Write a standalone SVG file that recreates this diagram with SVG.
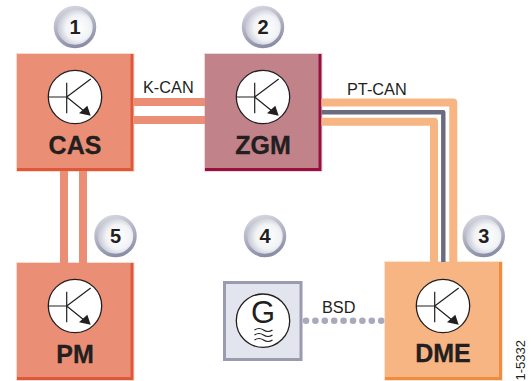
<svg xmlns="http://www.w3.org/2000/svg" width="531" height="381" viewBox="0 0 531 381">
<style>
text{font-family:"Liberation Sans",Arial,sans-serif;fill:#231f20}
.name{font-size:25px;font-weight:700;text-anchor:middle;stroke:#231f20;stroke-width:.3}
.bus{font-size:16.3px}
.num{font-size:20px;font-weight:700;text-anchor:middle}
.disc{fill:#fff;stroke:#231f20;stroke-width:1.3}
.thin{fill:none;stroke:#231f20;stroke-width:1.2}
.badge{fill:url(#bg);stroke:url(#br);stroke-width:3.500}
</style>
<defs>
<radialGradient id="bg" cx="0.58" cy="0.52" r="0.58"><stop offset="0" stop-color="#ffffff"/><stop offset="0.55" stop-color="#f2f3f6"/><stop offset="1" stop-color="#b9bbca"/></radialGradient>
<linearGradient id="br" x1="0.3" y1="0" x2="0.6" y2="1"><stop offset="0" stop-color="#d3d4de"/><stop offset="1" stop-color="#8a8da6"/></linearGradient>
<g id="tr">
<circle class="disc" r="26.700"/>
<path class="thin" d="M-26.700 0H-8.300M-8.300-14.300V16.300M-8.300 0L15.700-18M-8.300 0L9 14"/>
<path d="M15.700 18.700L4 16.300L12.300 8.700Z" fill="#231f20"/>
</g>
</defs>
<rect width="531" height="381" fill="#fff"/>
<g id="cas">
<rect x="16" y="53" width="118.500" height="119" fill="#f8dacf"/>
<rect x="17" y="54" width="116.500" height="117" fill="#e0573a"/>
<rect x="17" y="54" width="113.500" height="114" fill="#ea8f75"/>
<use href="#tr" x="75" y="97"/>
<text class="name" x="75" y="154">CAS</text>
</g>
<g id="zgm">
<rect x="204" y="53" width="118.500" height="119" fill="#ecd8da"/>
<rect x="205" y="54" width="116.500" height="117" fill="#96113f"/>
<rect x="205" y="54" width="113.500" height="114" fill="#c18289"/>
<use href="#tr" x="263" y="97"/>
<text class="name" x="263" y="154">ZGM</text>
</g>
<g id="pm">
<rect x="16" y="262" width="118.500" height="119" fill="#f8dacf"/>
<rect x="17" y="263" width="116.500" height="117" fill="#e0573a"/>
<rect x="17" y="263" width="113.500" height="114" fill="#ea8f75"/>
<use href="#tr" x="75" y="306"/>
<text class="name" x="75" y="362.500">PM</text>
</g>
<g id="dme">
<rect x="384" y="261" width="119" height="120" fill="#fce4d0"/>
<rect x="385" y="262" width="117" height="118" fill="#f08c3e"/>
<rect x="385" y="262" width="114" height="115" fill="#f7b584"/>
<use href="#tr" x="443" y="306"/>
<text class="name" x="443" y="362">DME</text>
</g>
<g id="generator">
<rect x="224.500" y="282.500" width="76.500" height="77" fill="#e3e5ee" stroke="#9a9ab0" stroke-width="3"/>
<circle class="disc" cx="263" cy="320.700" r="26.700"/>
<text x="263" y="322.500" font-size="31" text-anchor="middle">G</text>
<path class="thin" stroke-width="0.900" d="M254.500 330q4.500-3 9 0t9 0M254.500 335q4.500-3 9 0t9 0M254.500 340q4.500-3 9 0t9 0"/>
</g>
<g id="connectors" fill="none">
<g stroke="#ea8f75" stroke-width="8">
<path d="M133.500 102H205M133.500 120H205"/>
<path d="M64 171V263M83 171V263"/>
</g>
<g stroke-linejoin="round">
<path d="M321.500 102.500H453.300V262" stroke="#f7b584" stroke-width="8"/>
<path d="M321.500 121.700H434V262" stroke="#f7b584" stroke-width="8"/>
<path d="M321.500 112.200H443.300V262" stroke="#6a6a80" stroke-width="4.400"/>
</g>
<path d="M306 320.700H386" stroke="#a9a9bd" stroke-width="6.600" stroke-linecap="round" stroke-dasharray="0 9.400"/>
</g>
<g id="badges">
<g id="badge1"><circle class="badge" cx="75" cy="27" r="19.500"/><text class="num" x="75" y="34">1</text></g>
<g id="badge2"><circle class="badge" cx="263" cy="27" r="19.500"/><text class="num" x="263" y="34">2</text></g>
<g id="badge3"><circle class="badge" cx="483.700" cy="236" r="19.500"/><text class="num" x="483.700" y="243">3</text></g>
<g id="badge4"><circle class="badge" cx="265" cy="236" r="19.500"/><text class="num" x="265" y="243">4</text></g>
<g id="badge5"><circle class="badge" cx="115.500" cy="236" r="19.500"/><text class="num" x="115.500" y="243">5</text></g>
</g>
<g id="labels">
<text class="bus" x="143" y="93">K-CAN</text>
<text class="bus" x="347" y="95">PT-CAN</text>
<text class="bus" x="322" y="313">BSD</text>
<text font-size="13" transform="translate(525 380.500) rotate(-90)">1-5332</text>
</g>
</svg>
